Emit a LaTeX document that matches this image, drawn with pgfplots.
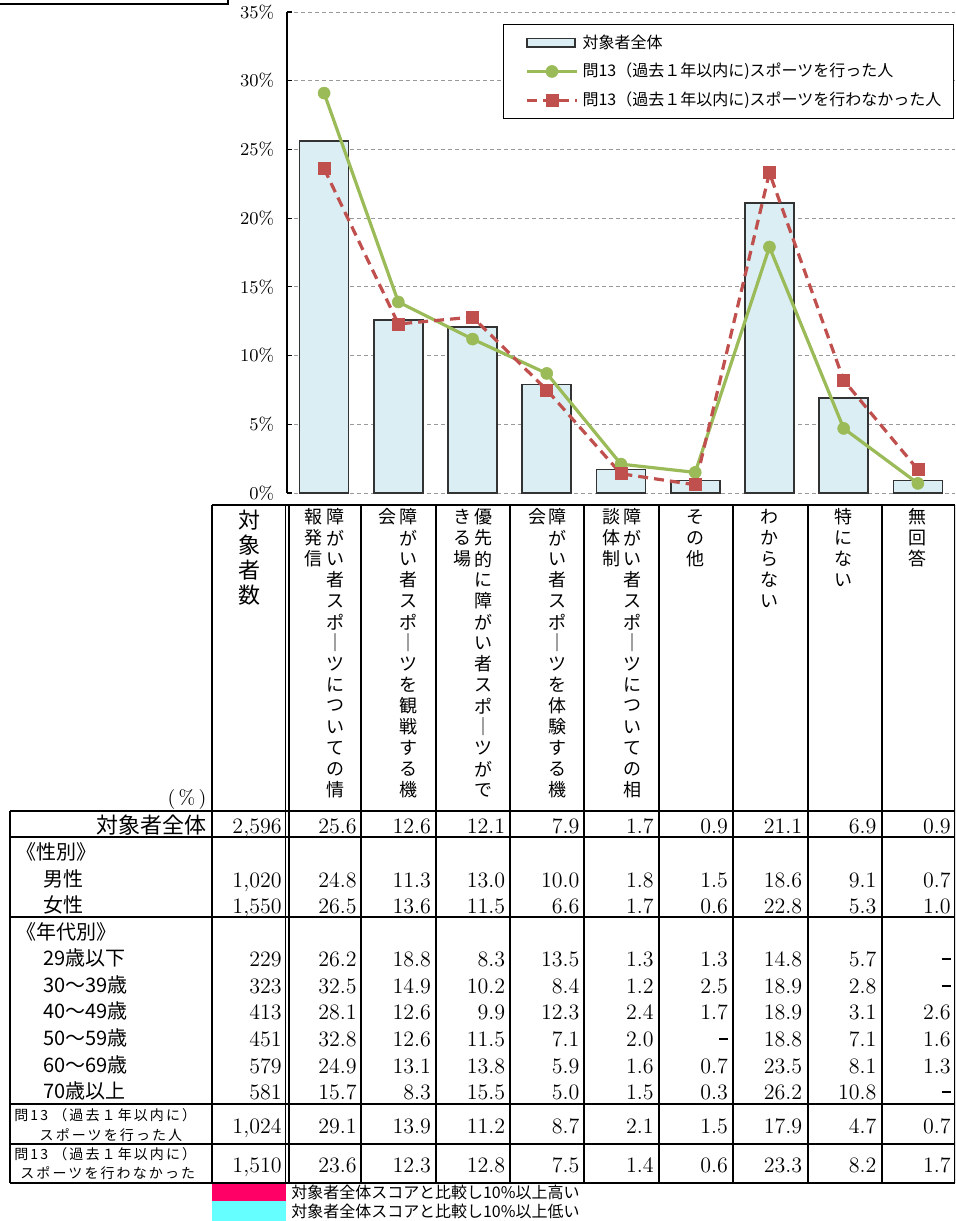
\documentclass[border=0pt]{standalone}
\usepackage{fontspec}
\usepackage{pgfplots}
\usepackage{pgfplotstable}
\pgfplotsset{compat=1.18}
\newfontfamily\jp{Noto Sans CJK JP}
\newfontfamily\jpls[LetterSpace=15]{Noto Sans CJK JP}
\definecolor{barfill}{RGB}{218,238,243}
\definecolor{sportgreen}{RGB}{155,187,89}
\definecolor{sportred}{RGB}{192,80,77}
\definecolor{hipink}{RGB}{255,0,102}
\definecolor{locyan}{RGB}{102,255,255}

\pgfplotsset{
  barleg/.style={legend image code/.code={\path (0pt,0pt); \draw[##1] (7pt,-2.2pt) rectangle (31pt,2.2pt);}},
  lineleg/.style={legend image code/.code={\path (0pt,0pt);
      \draw[mark repeat=2,mark phase=2,##1] plot coordinates {(7pt,0pt) (19.5pt,0pt) (32pt,0pt)};}},
}

% 0..8 = the nine answer categories
\pgfplotstableread{
x all done notdone
0 25.6 29.1 23.6
1 12.6 13.9 12.3
2 12.1 11.2 12.8
3 7.9  8.7  7.5
4 1.7  2.1  1.4
5 0.9  1.5  0.6
6 21.1 17.9 23.3
7 6.9  4.7  8.2
8 0.9  0.7  1.7
}\chartdata

\newcommand{\hdrfont}{\jp\fontsize{9}{10}\selectfont}
\newcommand{\numfont}{\fontsize{11}{13}\selectfont}
\newcommand{\lblfont}{\jp\fontsize{10}{12}\selectfont}
\newcommand{\na}{\rule[2.8pt]{4.5pt}{1.1pt}}
% vertical header text: x, first y, list of characters (pixel units)
\newcommand{\vcol}[3]{\foreach \c [count=\i from 0] in {#3}
  \node[inner sep=0, font=\hdrfont] at ({#1},{#2+\i*21}) {\c};}
% table row: baseline y, count, nine values
\newcommand{\trow}[3]{%
  \node[inner sep=0, anchor=base east, font=\numfont] at (282,#1) {#2};
  \foreach \v [count=\i from 0] in {#3}
    \node[inner sep=0, anchor=base east, font=\numfont] at ({357+\i*74.25},#1) {\v};}

\begin{document}
\begin{tikzpicture}
\path[use as bounding box] (0pt,0pt) rectangle (477.5pt,-610.5pt);
\clip (0pt,0pt) rectangle (477.5pt,-610.5pt);

\begin{axis}[
    at={(143.5pt,-246.5pt)}, anchor=south west,
    scale only axis, width=334pt, height=240.5pt,
    xmin=-0.5, xmax=8.5, ymin=0, ymax=35,
    axis x line=none, axis y line*=left,
    axis line style={black, line width=0.8pt},
    xtick=\empty,
    ytick={0,5,10,15,20,25,30,35},
    yticklabels={0\%,5\%,10\%,15\%,20\%,25\%,30\%,35\%},
    yticklabel style={font=\fontsize{9}{10}\selectfont, xshift=-3pt},
    tick align=inside, major tick length=2.5pt,
    ytick style={black, line width=0.6pt},
    ymajorgrids, grid style={gray!80, line width=0.5pt, dash pattern=on 2pt off 1.5pt},
    legend style={at={(0.9985,0.975)}, anchor=north east, draw=black, line width=0.6pt,
        font=\jp\fontsize{8}{9}\selectfont, row sep=2pt, inner xsep=4pt, inner ysep=3pt},
    legend cell align=left,
]
\addplot[ybar, bar width=24.5pt, fill=barfill, draw=black!80, line width=0.8pt, barleg]
    table[x=x, y=all] {\chartdata};
\addplot[sportgreen, line width=1.6pt, mark=*, mark size=3pt, mark options={solid, line width=0.3pt}, lineleg]
    table[x=x, y=done] {\chartdata};
\addplot[sportred, line width=1.6pt, dash pattern=on 5pt off 3pt, mark=square*, mark size=3pt, mark options={solid, line width=0.3pt}, lineleg]
    table[x=x, y=notdone] {\chartdata};
\legend{対象者全体, 問13（過去１年以内に)スポーツを行った人, 問13（過去１年以内に)スポーツを行わなかった人}
\end{axis}

\begin{scope}[x=0.5pt, y=-0.5pt]
% cut-off box in the top left corner
\draw[line width=0.8pt] (-5,-5) rectangle (228,4);

% table grid
\begin{scope}[line width=1pt]
  \draw (212,505) -- (955,505);
  \foreach \y in {811,837,917,1104,1144,1183} \draw (10,\y) -- (955,\y);
  \draw (10,811) -- (10,1183);
  \foreach \x in {212,361,436,510,584,659,733,808,882,954.5} \draw (\x,505) -- (\x,1183);
  \draw[line width=0.8pt] (285.5,505) -- (285.5,1183);
  \draw[line width=0.8pt] (289,505) -- (289,1183);
\end{scope}

% column headers
\foreach \c [count=\i from 0] in {対,象,者,数}
  \node[inner sep=0, font=\jp\fontsize{11}{12}\selectfont] at (249,{520+\i*25}) {\c};
\vcol{335}{517}{障,が,い,者,ス,ポ,｜,ツ,に,つ,い,て,の,情}
\vcol{313}{517}{報,発,信}
\vcol{408}{517}{障,が,い,者,ス,ポ,｜,ツ,を,観,戦,す,る,機}
\vcol{387}{517}{会}
\vcol{483}{517}{優,先,的,に,障,が,い,者,ス,ポ,｜,ツ,が,で}
\vcol{462}{517}{き,る,場}
\vcol{557}{517}{障,が,い,者,ス,ポ,｜,ツ,を,体,験,す,る,機}
\vcol{537}{517}{会}
\vcol{632}{517}{障,が,い,者,ス,ポ,｜,ツ,に,つ,い,て,の,相}
\vcol{611}{517}{談,体,制}
\vcol{695}{517}{そ,の,他}
\vcol{769}{517}{わ,か,ら,な,い}
\vcol{843}{517}{特,に,な,い}
\vcol{917}{517}{無,回,答}
\node[inner sep=0, font=\fontsize{10}{12}\selectfont] at (187,799) {(\,\%\,)};

% row labels
\node[anchor=east, inner sep=0, font=\jp\fontsize{11}{13}\selectfont] at (207,825) {対象者全体};
\node[anchor=west, inner sep=0, font=\lblfont] at (16,852) {《性別》};
\node[anchor=west, inner sep=0, font=\lblfont] at (43,879) {男性};
\node[anchor=west, inner sep=0, font=\lblfont] at (43,905) {女性};
\node[anchor=west, inner sep=0, font=\lblfont] at (16,932) {《年代別》};
\node[anchor=west, inner sep=0, font=\lblfont] at (43,958) {29歳以下};
\node[anchor=west, inner sep=0, font=\lblfont] at (43,985) {30〜39歳};
\node[anchor=west, inner sep=0, font=\lblfont] at (43,1011) {40〜49歳};
\node[anchor=west, inner sep=0, font=\lblfont] at (43,1038) {50〜59歳};
\node[anchor=west, inner sep=0, font=\lblfont] at (43,1065) {60〜69歳};
\node[anchor=west, inner sep=0, font=\lblfont] at (43,1091) {70歳以上};
\node[anchor=west, inner sep=0, font=\jpls\fontsize{7}{8}\selectfont] at (14,1115) {問13 （過去１年以内に）};
\node[inner sep=0, font=\jpls\fontsize{7}{8}\selectfont] at (111,1135) {スポーツを行った人};
\node[anchor=west, inner sep=0, font=\jpls\fontsize{7}{8}\selectfont] at (14,1154) {問13 （過去１年以内に）};
\node[anchor=west, inner sep=0, font=\jpls\fontsize{7}{8}\selectfont] at (20,1173) {スポーツを行わなかった};

% table values
\trow{833}{2,596}{25.6,12.6,12.1,7.9,1.7,0.9,21.1,6.9,0.9}
\trow{887}{1,020}{24.8,11.3,13.0,10.0,1.8,1.5,18.6,9.1,0.7}
\trow{913}{1,550}{26.5,13.6,11.5,6.6,1.7,0.6,22.8,5.3,1.0}
\trow{966}{229}{26.2,18.8,8.3,13.5,1.3,1.3,14.8,5.7,\na}
\trow{993}{323}{32.5,14.9,10.2,8.4,1.2,2.5,18.9,2.8,\na}
\trow{1019}{413}{28.1,12.6,9.9,12.3,2.4,1.7,18.9,3.1,2.6}
\trow{1046}{451}{32.8,12.6,11.5,7.1,2.0,\na,18.8,7.1,1.6}
\trow{1073}{579}{24.9,13.1,13.8,5.9,1.6,0.7,23.5,8.1,1.3}
\trow{1099}{581}{15.7,8.3,15.5,5.0,1.5,0.3,26.2,10.8,\na}
\trow{1133}{1,024}{29.1,13.9,11.2,8.7,2.1,1.5,17.9,4.7,0.7}
\trow{1172}{1,510}{23.6,12.3,12.8,7.5,1.4,0.6,23.3,8.2,1.7}

% highlight key
\fill[hipink] (212,1184) rectangle (286,1201);
\fill[locyan] (212,1201) rectangle (286,1222);
\node[anchor=west, inner sep=0, font=\jp\fontsize{8}{9}\selectfont] at (291,1192) {対象者全体スコアと比較し10\%以上高い};
\node[anchor=west, inner sep=0, font=\jp\fontsize{8}{9}\selectfont] at (291,1211) {対象者全体スコアと比較し10\%以上低い};
\end{scope}
\end{tikzpicture}
\end{document}
